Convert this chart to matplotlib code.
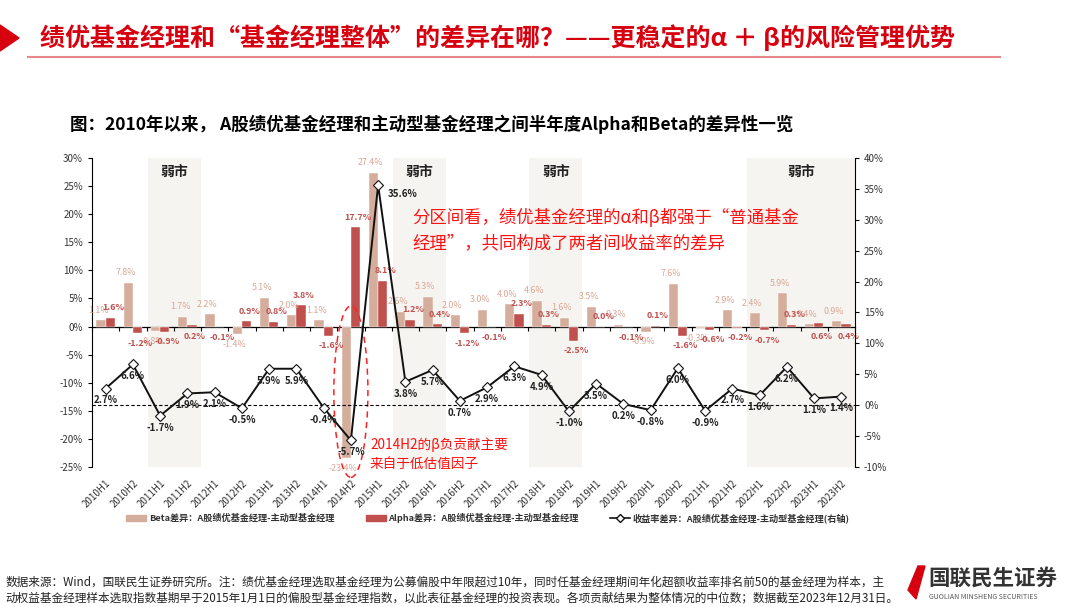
import numpy as np
import matplotlib
matplotlib.use("Agg")
import matplotlib.pyplot as plt
from matplotlib.patches import Ellipse, Polygon, Patch
from matplotlib.lines import Line2D

plt.rcParams['font.family'] = ['Noto Sans CJK SC', 'DejaVu Sans']
plt.rcParams['axes.unicode_minus'] = False

periods = ["2010H1", "2010H2", "2011H1", "2011H2", "2012H1", "2012H2", "2013H1", "2013H2",
           "2014H1", "2014H2", "2015H1", "2015H2", "2016H1", "2016H2", "2017H1", "2017H2",
           "2018H1", "2018H2", "2019H1", "2019H2", "2020H1", "2020H2", "2021H1", "2021H2",
           "2022H1", "2022H2", "2023H1", "2023H2"]
beta_diff = [1.1, 7.8, -0.8, 1.7, 2.2, -1.4, 5.1, 2.0, 1.1, -23.4, 27.4, 2.6, 5.3, 2.0,
             3.0, 4.0, 4.6, 1.6, 3.5, 0.3, -0.9, 7.6, -0.3, 2.9, 2.4, 5.9, 0.4, 0.9]
alpha_diff = [1.6, -1.2, -0.9, 0.2, -0.1, 0.9, 0.8, 3.8, -1.6, 17.7, 8.1, 1.2, 0.4, -1.2,
              -0.1, 2.3, 0.3, -2.5, 0.0, -0.1, 0.1, -1.6, -0.6, -0.2, -0.7, 0.3, 0.6, 0.4]
return_diff = [2.7, 6.6, -1.7, 1.9, 2.1, -0.5, 5.9, 5.9, -0.4, -5.7, 35.6, 3.8, 5.7, 0.7,
               2.9, 6.3, 4.9, -1.0, 3.5, 0.2, -0.8, 6.0, -0.9, 2.7, 1.6, 6.2, 1.1, 1.4]
weak_markets = [("2011H1", "2011H2"), ("2015H2", "2016H1"), ("2018H1", "2018H2"), ("2022H1", "2023H2")]
alpha_labels_below = ["2011H2", "2023H1", "2023H2"]

beta_label = "Beta差异：A股绩优基金经理-主动型基金经理"
alpha_label = "Alpha差异：A股绩优基金经理-主动型基金经理"
ret_label = "收益率差异：A股绩优基金经理-主动型基金经理(右轴)"

BETA_C = "#D5AD9C"
BETA_T = "#D9A795"
ALPHA_C = "#C0504D"

W, H = 1080, 607
fig = plt.figure(figsize=(W / 100, H / 100), dpi=100)

def fx(px):
    return px / W

def fy(py):
    return 1 - py / H

# Header
fig.patches.append(Polygon([[fx(0), fy(25)], [fx(19), fy(38)], [fx(0), fy(51)]],
                           closed=True, transform=fig.transFigure, color="#D7000F"))
fig.text(fx(40), fy(38), "绩优基金经理和“基金经理整体”的差异在哪？——更稳定的α ＋ β的风险管理优势",
         color="#D7000F", fontsize=18, fontweight="bold", va="center", ha="left")
fig.add_artist(Line2D([fx(28), fx(1000)], [fy(57), fy(57)], color="#E8868A", lw=1.5,
                      transform=fig.transFigure))
fig.text(fx(70), fy(124), "图：2010年以来， A股绩优基金经理和主动型基金经理之间半年度Alpha和Beta的差异性一览",
         color="black", fontsize=12.6, fontweight="bold", va="center", ha="left")

ax = fig.add_axes([fx(92), fy(467), fx(855) - fx(92), fy(158) - fy(467)])
ax2 = ax.twinx()

x = np.arange(len(periods))
bw = 0.34

# weak market shading
for a, b in weak_markets:
    i0, i1 = periods.index(a), periods.index(b)
    lo = i0 - 0.45
    hi = min(i1 + 0.5, len(periods) - 0.45)
    ax.axvspan(lo, hi, color="#F6F4F0", zorder=0, lw=0)
    ax.text((lo + hi) / 2, 27.6, "弱市", ha="center", va="center", fontsize=10,
            fontweight="bold", color="#222222")

ax.bar(x - bw / 2, beta_diff, bw, color=BETA_C, zorder=2, label=beta_label, edgecolor="white", lw=0.3)
ax.bar(x + bw / 2, alpha_diff, bw, color=ALPHA_C, zorder=2, label=alpha_label, edgecolor="white", lw=0.3)

for i, v in enumerate(beta_diff):
    off = 4 if v >= 0 else -4
    ax.annotate(f"{v:.1f}%", (x[i] - bw / 2, v), xytext=(-2, off), textcoords="offset points",
                ha="center", va="bottom" if v >= 0 else "top", fontsize=6.4, color=BETA_T, zorder=5,
                annotation_clip=False)
for i, v in enumerate(alpha_diff):
    up = v >= 0 and periods[i] not in alpha_labels_below
    yb = v if v < 0 else (0 if not up else v)
    off = 4 if up else -4
    ax.annotate(f"{v:.1f}%", (x[i] + bw / 2, yb), xytext=(2, off), textcoords="offset points",
                ha="center", va="bottom" if up else "top", fontsize=6.4, color=ALPHA_C,
                fontweight="bold", zorder=5, annotation_clip=False)

ax.set_ylim(-25, 30)
ax.set_yticks(np.arange(-25, 31, 5))
ax.set_yticklabels([f"{t}%" for t in range(-25, 31, 5)], fontsize=7, color="#333333")
ax.set_xlim(-0.5, len(periods) - 0.5)
ax.set_xticks(x)
ax.set_xticklabels(periods, rotation=45, ha="right", va="top", rotation_mode="anchor",
                   fontsize=7, color="#333333")
ax.tick_params(axis="x", length=0, pad=8)
ax.tick_params(axis="y", length=3, width=0.8, color="black")
for s in ["top", "bottom", "right"]:
    ax.spines[s].set_visible(False)
ax.spines["left"].set_color("black")

# zero axis line with boundary ticks
sec = ax.secondary_xaxis(0, transform=ax.transData)
sec.set_xticks(np.arange(-0.5, len(periods), 1))
sec.set_xticklabels([])
sec.tick_params(length=3, width=0.8, color="black", direction="out")
sec.spines["bottom"].set_color("black")
sec.spines["bottom"].set_linewidth(0.9)

# return line
ax2.axhline(0, ls=(0, (3, 2)), color="black", lw=0.8, zorder=1)
ax2.plot(x, return_diff, color="#111111", lw=1.4, marker="D", markersize=5,
         markerfacecolor="white", markeredgecolor="#111111", markeredgewidth=0.8, zorder=4,
         label=ret_label)
for i, v in enumerate(return_diff):
    if i == return_diff.index(max(return_diff)):
        xy_off, ha, va = (7, -6), "left", "center"
    else:
        xy_off, ha, va = (0, -5), "center", "top"
    ax2.annotate(f"{v:.1f}%", (x[i], v), xytext=xy_off, textcoords="offset points",
                 ha=ha, va=va, fontsize=7, fontweight="bold", color="#222222", zorder=6)
ax2.set_ylim(-10, 40)
ax2.set_yticks(np.arange(-10, 41, 5))
ax2.set_yticklabels([f"{t}%" for t in range(-10, 41, 5)], fontsize=7, color="#333333")
ax2.tick_params(axis="y", length=3, width=0.8, color="black")
for s in ["top", "bottom", "left"]:
    ax2.spines[s].set_visible(False)
ax2.spines["right"].set_color("black")

# annotations
i14 = periods.index("2014H2")
ax.add_patch(Ellipse((x[i14], -11.6), 1.25, 30.5, fill=False, ls=(0, (4, 3)), ec="#FF2020",
                     lw=1.1, zorder=6, clip_on=False))
fig.text(fx(412), fy(217), "分区间看，绩优基金经理的α和β都强于“普通基金", color="#FF1010",
         fontsize=12.5, va="center", ha="left")
fig.text(fx(412), fy(244), "经理”，共同构成了两者间收益率的差异", color="#FF1010",
         fontsize=12.5, va="center", ha="left")
fig.text(fx(370), fy(445), "2014H2的β负贡献主要", color="#FF1010", fontsize=9.8, va="center", ha="left")
fig.text(fx(370), fy(465), "来自于低估值因子", color="#FF1010", fontsize=9.8, va="center", ha="left")

# legend
handles = [Patch(color=BETA_C, label=beta_label), Patch(color=ALPHA_C, label=alpha_label),
           Line2D([], [], color="#111111", lw=1.2, marker="D", markersize=4, markerfacecolor="white",
                  markeredgecolor="#111111", label=ret_label)]
leg = fig.legend(handles=handles, loc="center", bbox_to_anchor=(fx(488), fy(518)), ncol=3,
                 frameon=False, fontsize=6.6, handlelength=2.2, handleheight=0.7, columnspacing=3.4,
                 handletextpad=0.3)
for t in leg.get_texts():
    t.set_fontweight("bold")
    t.set_color("#333333")

# footer
fig.text(fx(5), fy(582), "数据来源：Wind，国联民生证券研究所。注：绩优基金经理选取基金经理为公募偏股中年限超过10年，同时任基金经理期间年化超额收益率排名前50的基金经理为样本，主",
         fontsize=8.4, va="center", ha="left", color="#222222")
fig.text(fx(5), fy(598), "动权益基金经理样本选取指数基期早于2015年1月1日的偏股型基金经理指数，以此表征基金经理的投资表现。各项贡献结果为整体情况的中位数；数据截至2023年12月31日。",
         fontsize=8.4, va="center", ha="left", color="#222222")
# logo
fig.patches.append(Polygon([[fx(918), fy(566)], [fx(925), fy(566)], [fx(916), fy(599)], [fx(908), fy(590)]],
                           closed=True, transform=fig.transFigure, color="#D7000F"))
fig.text(fx(928), fy(578), "国联民生证券", fontsize=15.5, fontweight="bold", color="#333333",
         va="center", ha="left")
fig.text(fx(929), fy(597), "GUOLIAN MINSHENG SECURITIES", fontsize=5, color="#555555",
         va="center", ha="left")

fig.savefig("out.png", dpi=100)
